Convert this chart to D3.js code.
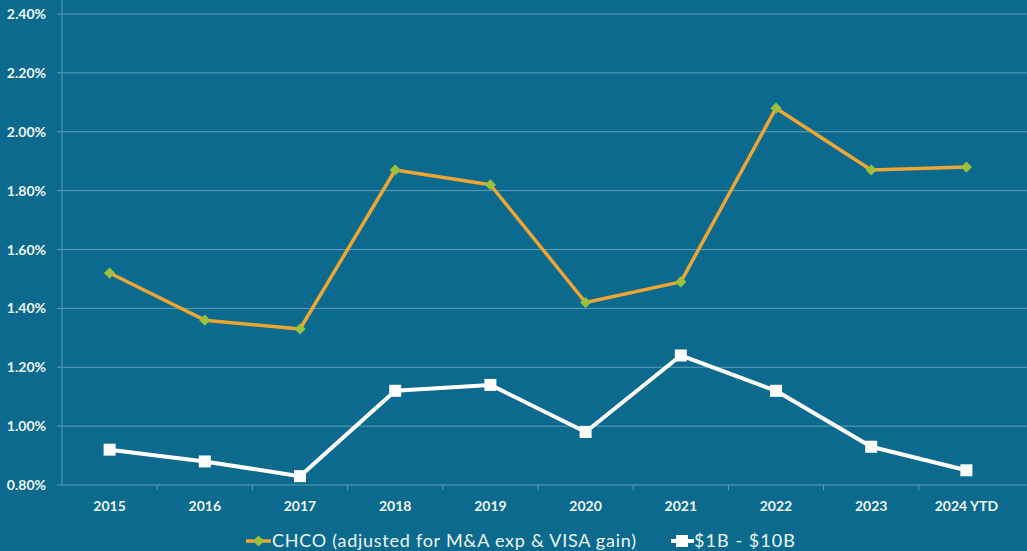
<!DOCTYPE html>
<html lang="en">
  <head>
    <meta charset="UTF-8" />
    <title>CHCO vs $1B - $10B</title>
    <script src="https://d3js.org/d3.v7.min.js"></script>
    <style>
      body { margin: 0; background: #0b6a8e; }
    </style>
  </head>

  <body>
    <svg width="1027" height="551"></svg>

    <script>
      const years = ["2015", "2016", "2017", "2018", "2019", "2020", "2021", "2022", "2023", "2024 YTD"];
      const chco = [1.52, 1.36, 1.33, 1.87, 1.82, 1.42, 1.49, 2.08, 1.87, 1.88];
      const peers = [0.92, 0.88, 0.83, 1.12, 1.14, 0.98, 1.24, 1.12, 0.93, 0.85];
      const yTicks = [0.8, 1.0, 1.2, 1.4, 1.6, 1.8, 2.0, 2.2, 2.4];
      const seriesNames = ["CHCO (adjusted for M&A exp & VISA gain)", "$1B - $10B"];

      let svg = d3.select("svg");
      svg.append("rect").attr("width", 1027).attr("height", 551).attr("fill", "#0b6a8e");

      const plotLeft = 62, plotRight = 1014, plotTop = 14, plotBottom = 485;
      const font = "Lato, sans-serif";

      let x = d3.scaleBand().domain(years).range([plotLeft, plotRight]);
      let y = d3.scaleLinear().domain([0.8, 2.4]).range([plotBottom, plotTop]);

      // gridlines
      svg.append("g")
        .selectAll("line")
        .data(yTicks)
        .enter()
        .append("line")
        .attr("x1", plotLeft - 5)
        .attr("x2", plotRight + 13)
        .attr("y1", d => y(d))
        .attr("y2", d => y(d))
        .attr("stroke", "#5f9fb9")
        .attr("stroke-width", 1);

      // y axis line
      svg.append("line")
        .attr("x1", plotLeft).attr("x2", plotLeft)
        .attr("y1", 0).attr("y2", plotBottom)
        .attr("stroke", "#5f9fb9");

      // x ticks at category boundaries
      svg.append("g")
        .selectAll("line")
        .data(years.slice(1))
        .enter()
        .append("line")
        .attr("x1", d => x(d)).attr("x2", d => x(d))
        .attr("y1", plotBottom).attr("y2", plotBottom + 5)
        .attr("stroke", "#5f9fb9");

      // y labels
      svg.append("g")
        .selectAll("text")
        .data(yTicks)
        .enter()
        .append("text")
        .attr("x", 46)
        .attr("y", d => y(d) + 5)
        .attr("text-anchor", "end")
        .attr("font-family", font)
        .attr("font-weight", "bold")
        .attr("font-size", "14px")
        .attr("fill", "#eef6fa")
        .text(d => d.toFixed(2) + "%");

      // x labels
      svg.append("g")
        .selectAll("text")
        .data(years)
        .enter()
        .append("text")
        .attr("x", d => x(d) + x.bandwidth() / 2)
        .attr("y", 511)
        .attr("text-anchor", "middle")
        .attr("font-family", font)
        .attr("font-weight", "bold")
        .attr("font-size", "14px")
        .attr("fill", "#eef6fa")
        .text(d => d);

      const line = d3.line()
        .x((d, i) => x(years[i]) + x.bandwidth() / 2)
        .y(d => y(d));

      // peers line
      svg.append("path")
        .attr("d", line(peers))
        .attr("fill", "none")
        .attr("stroke", "#ffffff")
        .attr("stroke-width", 4)
        .attr("stroke-linejoin", "round");

      svg.append("g")
        .selectAll("rect")
        .data(peers)
        .enter()
        .append("rect")
        .attr("x", (d, i) => x(years[i]) + x.bandwidth() / 2 - 6)
        .attr("y", d => y(d) - 6)
        .attr("width", 12)
        .attr("height", 12)
        .attr("fill", "#ffffff");

      // CHCO line
      svg.append("path")
        .attr("d", line(chco))
        .attr("fill", "none")
        .attr("stroke", "#eda534")
        .attr("stroke-width", 3.5)
        .attr("stroke-linejoin", "round");

      const diamond = d3.symbol().type(d3.symbolDiamond2).size(80);
      svg.append("g")
        .selectAll("path")
        .data(chco)
        .enter()
        .append("path")
        .attr("d", diamond)
        .attr("transform", (d, i) => `translate(${x(years[i]) + x.bandwidth() / 2},${y(d)})`)
        .attr("fill", "#9cbf3c");

      // legend
      let lg = svg.append("g");
      lg.append("line").attr("x1", 246).attr("x2", 271).attr("y1", 541).attr("y2", 541)
        .attr("stroke", "#eda534").attr("stroke-width", 3.5);
      lg.append("path").attr("d", diamond).attr("transform", "translate(258.5,541)").attr("fill", "#9cbf3c");
      lg.append("text").attr("x", 272).attr("y", 547)
        .attr("font-family", font).attr("font-size", "18px").attr("fill", "#eef6fa")
        .attr("textLength", 364)
        .text(seriesNames[0]);

      lg.append("line").attr("x1", 671).attr("x2", 694).attr("y1", 541).attr("y2", 541)
        .attr("stroke", "#ffffff").attr("stroke-width", 4);
      lg.append("rect").attr("x", 676).attr("y", 535).attr("width", 12).attr("height", 12).attr("fill", "#ffffff");
      lg.append("text").attr("x", 694).attr("y", 547)
        .attr("font-family", font).attr("font-size", "18px").attr("fill", "#eef6fa")
        .attr("textLength", 101)
        .text(seriesNames[1]);
    </script>
  </body>
</html>
